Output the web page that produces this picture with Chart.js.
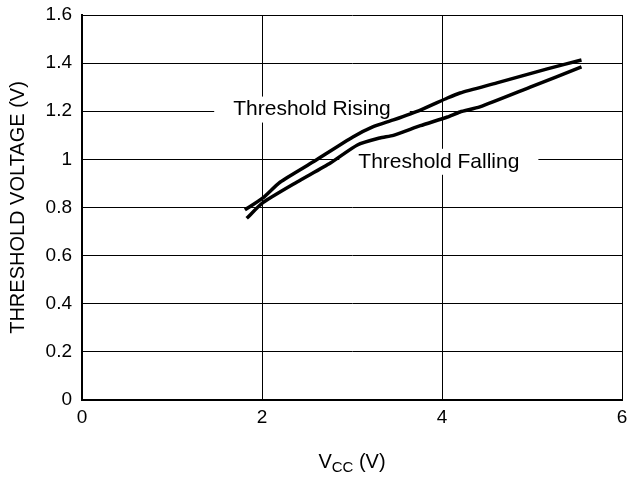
<!DOCTYPE html>
<html>
<head>
<meta charset="utf-8">
<script src="https://cdn.jsdelivr.net/npm/chart.js@4.4.1/dist/chart.umd.min.js"></script>
<style>
  html, body { margin: 0; padding: 0; background: #fff; }
  #wrap { width: 634px; height: 479px; }
</style>
</head>
<body>
<div id="wrap"><canvas id="thresholdChart"></canvas></div>
<script>
// values
const risingVcc = [1.81, 2.01, 2.20, 2.57, 3.01, 3.23, 3.46, 3.76, 4.06, 4.20, 4.61, 5.17, 5.55];
const risingV   = [0.79, 0.84, 0.905, 0.99, 1.093, 1.135, 1.164, 1.205, 1.255, 1.276, 1.318, 1.376, 1.413];
const fallingVcc = [1.83, 2.01, 2.39, 2.76, 3.06, 3.31, 3.46, 3.76, 4.06, 4.20, 4.42, 4.98, 5.55];
const fallingV   = [0.755, 0.82, 0.906, 0.985, 1.06, 1.089, 1.10, 1.14, 1.176, 1.197, 1.218, 1.30, 1.384];

const xTicks = [0, 2, 4, 6];
const yTicks = [0, 0.2, 0.4, 0.6, 0.8, 1, 1.2, 1.4, 1.6];

const FONT = "'Liberation Sans', Arial, Helvetica, sans-serif";

function toPoints(xs, ys) {
  return xs.map((x, i) => ({ x: x, y: ys[i] }));
}

// curve labels sit on white boxes that cut the grid lines
const curveLabels = [
  { text: "Threshold Rising", x: 1.68, y: 1.207 },
  { text: "Threshold Falling", x: 3.07, y: 0.99 }
];

const labelPlugin = {
  id: "curveLabels",
  beforeDatasetsDraw(chart) {
    const ctx = chart.ctx;
    const xs = chart.scales.x, ys = chart.scales.y;
    ctx.save();
    ctx.font = "21px " + FONT;
    ctx.textAlign = "left";
    ctx.textBaseline = "middle";
    curveLabels.forEach(l => {
      const px = xs.getPixelForValue(l.x);
      const py = ys.getPixelForValue(l.y);
      const w = ctx.measureText(l.text).width;
      ctx.fillStyle = "#fff";
      ctx.fillRect(px - 19, py - 13, w + 38, 26);
      ctx.fillStyle = "#000";
      ctx.fillText(l.text, px, py);
    });
    ctx.restore();
  },
  afterDraw(chart) {
    // x axis title with subscript CC
    const ctx = chart.ctx;
    const area = chart.chartArea;
    ctx.save();
    ctx.fillStyle = "#000";
    ctx.textBaseline = "alphabetic";
    const big = "20px " + FONT, small = "15px " + FONT;
    ctx.font = big;
    const wV = ctx.measureText("V").width;
    const wRest = ctx.measureText(" (V)").width;
    ctx.font = small;
    const wCC = ctx.measureText("CC").width;
    let x = (area.left + area.right) / 2 - (wV + wCC + wRest) / 2;
    const base = 468;
    ctx.font = big;
    ctx.textAlign = "left";
    ctx.fillText("V", x, base);
    x += wV;
    ctx.font = small;
    ctx.fillText("CC", x, base + 4);
    x += wCC;
    ctx.font = big;
    ctx.fillText(" (V)", x, base);
    ctx.restore();
  }
};

new Chart(document.getElementById("thresholdChart"), {
  type: "scatter",
  data: {
    datasets: [
      {
        label: "Threshold Rising",
        data: toPoints(risingVcc, risingV),
        showLine: true,
        borderColor: "#000",
        borderWidth: 3.5,
        pointRadius: 0,
        tension: 0.2
      },
      {
        label: "Threshold Falling",
        data: toPoints(fallingVcc, fallingV),
        showLine: true,
        borderColor: "#000",
        borderWidth: 3.5,
        pointRadius: 0,
        tension: 0.2
      }
    ]
  },
  options: {
    responsive: true,
    maintainAspectRatio: false,
    animation: false,
    layout: { padding: { top: 15, right: 12, left: 0, bottom: 0 } },
    plugins: {
      legend: { display: false },
      tooltip: { enabled: false }
    },
    scales: {
      x: {
        type: "linear",
        min: 0,
        max: 6,
        afterBuildTicks: s => { s.ticks = xTicks.map(v => ({ value: v })); },
        afterFit: s => { s.height = 79; s.paddingLeft = 0; s.paddingRight = 0; },
        ticks: { color: "#000", padding: 6, font: { family: FONT, size: 19 }, callback: v => String(v) },
        grid: { color: "#000", lineWidth: 1, drawTicks: false, tickLength: 0 },
        border: { color: "#000", width: 2 }
      },
      y: {
        min: 0,
        max: 1.6,
        afterBuildTicks: s => { s.ticks = yTicks.map(v => ({ value: v })); },
        afterFit: s => { s.width = 82; s.paddingTop = 0; s.paddingBottom = 0; },
        ticks: { color: "#000", padding: 10, font: { family: FONT, size: 19 }, callback: v => String(v) },
        grid: { color: "#000", lineWidth: 1, drawTicks: false, tickLength: 0 },
        border: { color: "#000", width: 2 },
        title: {
          display: true,
          text: "THRESHOLD VOLTAGE (V)",
          color: "#000",
          font: { family: FONT, size: 20 },
          padding: { top: 6, bottom: 0 }
        }
      }
    }
  },
  plugins: [labelPlugin]
});
</script>
</body>
</html>
